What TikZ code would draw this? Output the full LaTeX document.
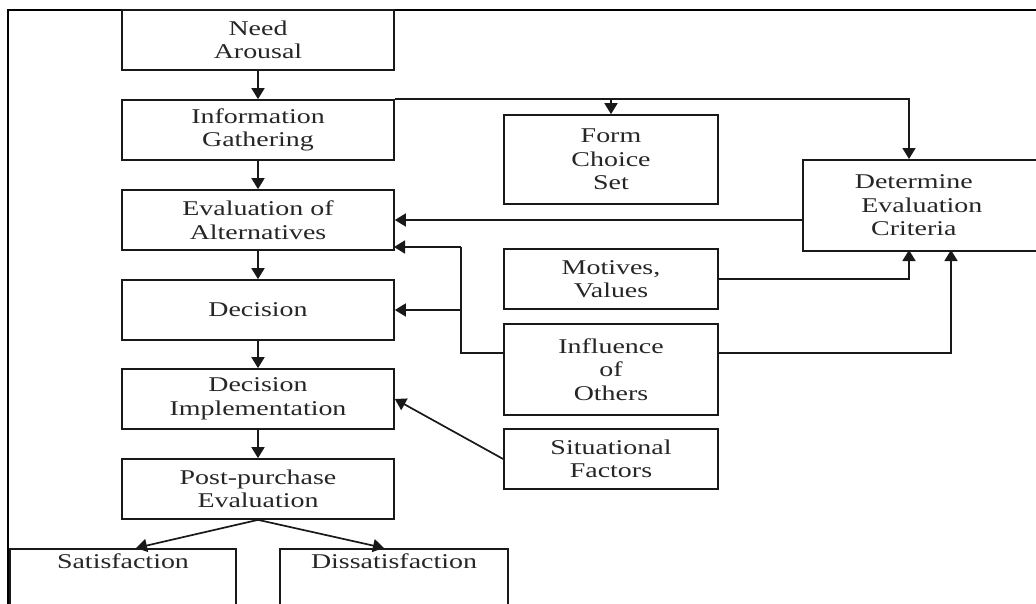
\documentclass[tikz,border=0pt]{standalone}
\usepackage{fontspec}
\setmainfont{Liberation Serif}[FakeStretch=1.33]
\usetikzlibrary{arrows.meta}
\begin{document}
\begin{tikzpicture}[x=1pt,y=-1pt,
  box/.style={draw=black!90, line width=1.7pt, align=center, inner sep=0pt,
    font=\fontsize{21}{23.5}\selectfont, text=black!85},
  lbox/.style={box, minimum width=272pt, minimum height=60pt},
  rbox/.style={box, minimum width=214pt},
  arr/.style={draw=black!90, line width=1.7pt, -{Triangle[length=11pt,width=13pt]}},
  ln/.style={draw=black!90, line width=1.7pt}]
\useasboundingbox (0,0) rectangle (1036,603);
\clip (0,0) rectangle (1036,603);
\fill[white] (0,0) rectangle (1036,603);
% outer frame
\draw[line width=2pt] (8,10) rectangle (1060,640);
% left column
\node[lbox] (need) at (258,40) {Need\\Arousal};
\node[lbox] (info) at (258,130) {Information\\Gathering};
\node[lbox] (eval) at (258,220) {Evaluation of\\Alternatives};
\node[lbox] (dec) at (258,310) {Decision};
\node[lbox] (impl) at (258,399) {Decision\\Implementation};
\node[lbox] (post) at (258,489) {Post-purchase\\Evaluation};
\node[box, minimum width=226pt, anchor=north, text height=16pt, text depth=62pt, inner ysep=4pt] (sat) at (123,548) {Satisfaction};
\node[box, minimum width=228pt, anchor=north, text height=16pt, text depth=62pt, inner ysep=4pt] (dis) at (394,548) {Dissatisfaction};
% right column
\node[rbox, minimum height=89pt] (form) at (611,159.5) {Form\\Choice\\Set};
\node[box, minimum width=238pt, minimum height=91pt, anchor=north west] (det) at (802,159) {Determine\hspace*{16pt}\\Evaluation\hspace*{16pt}\\Criteria\hspace*{16pt}};
\node[rbox, minimum height=60pt] (mot) at (611,279) {Motives,\\Values};
\node[rbox, minimum height=91pt] (infl) at (611,369.5) {Influence\\of\\Others};
\node[rbox, minimum height=60pt] (sit) at (611,459) {Situational\\Factors};
% coordinates
\coordinate (dtop) at (909,159);
\coordinate (dbot1) at (909,250);
\coordinate (dbot2) at (951,250);
\coordinate (infw) at (504,353);
\coordinate (infe) at (718,353);
\coordinate (jx) at (461,353);
\coordinate (evin) at (394,247);
% left column arrows
\draw[arr] (need.south) -- (info.north);
\draw[arr] (info.south) -- (eval.north);
\draw[arr] (eval.south) -- (dec.north);
\draw[arr] (dec.south) -- (impl.north);
\draw[arr] (impl.south) -- (post.north);
\draw[arr] (post.south) -- ([xshift=13pt]sat.north);
\draw[arr] (post.south) -- ([xshift=-10pt]dis.north);
% top line
\draw[arr] (info.north east) -| (dtop);
\draw[arr] (form.north |- info.north) -- (form.north);
% criteria to evaluation
\draw[arr] (det.west |- eval.east) -- (eval.east);
% motives and influence to criteria
\draw[arr] (mot.east) -| (dbot1);
\draw[arr] (infe) -| (dbot2);
% influence to evaluation and decision
\draw[ln] (infw) -- (jx) -- (jx |- evin);
\draw[arr] (jx |- evin) -- (evin);
\draw[arr] (jx |- dec.east) -- (dec.east);
% situational to implementation
\draw[arr] (sit.west) -- (impl.east);
\end{tikzpicture}
\end{document}
